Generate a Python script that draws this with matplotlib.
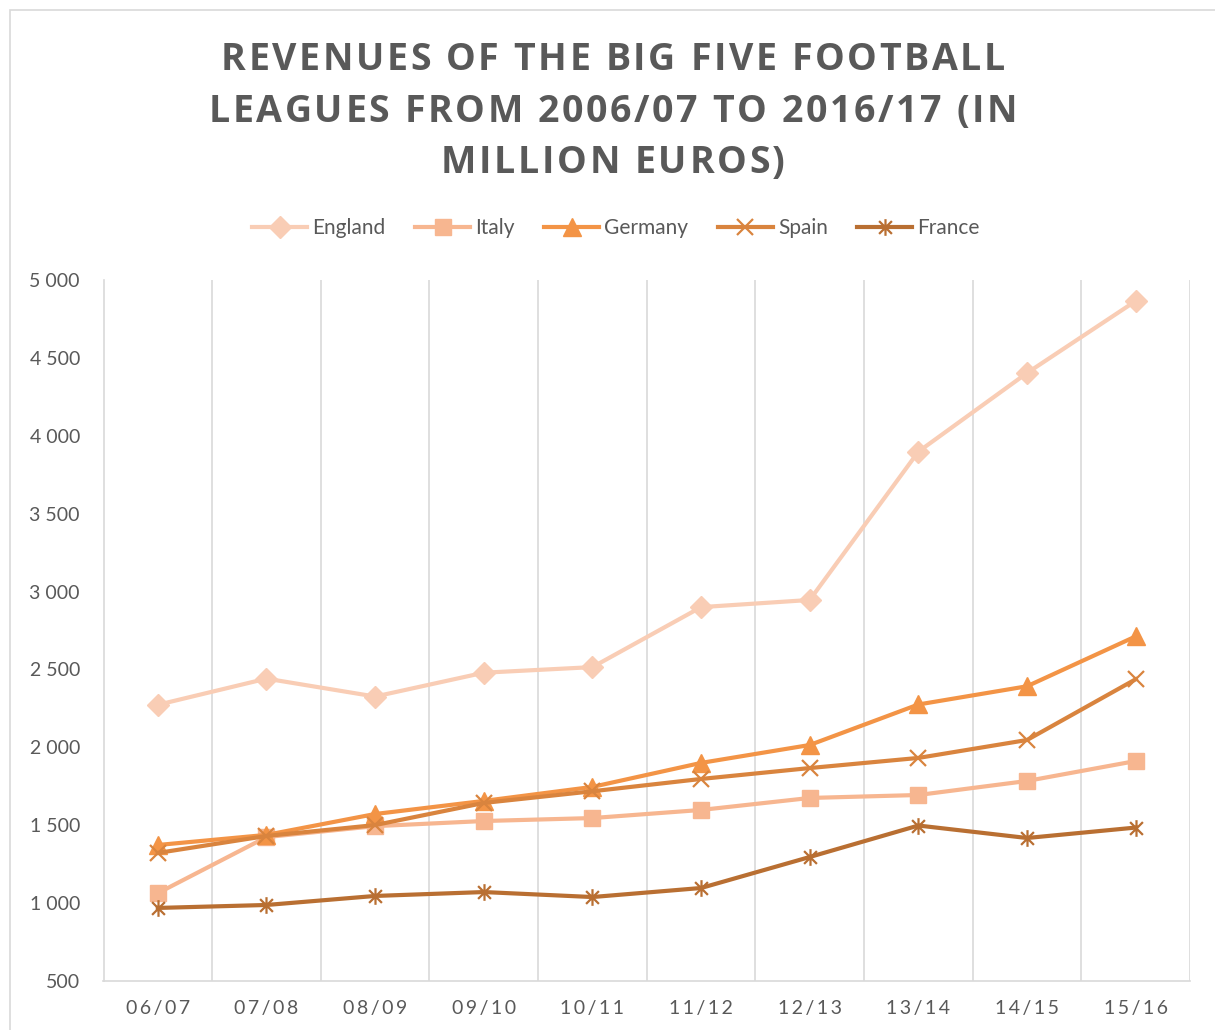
import matplotlib.pyplot as plt
from matplotlib.path import Path
from matplotlib.patches import Rectangle

seasons = ["06/07", "07/08", "08/09", "09/10", "10/11",
           "11/12", "12/13", "13/14", "14/15", "15/16"]
england = [2273, 2441, 2326, 2479, 2515, 2900, 2946, 3898, 4403, 4865]
italy = [1064, 1424, 1494, 1527, 1546, 1598, 1675, 1694, 1784, 1912]
germany = [1373, 1438, 1572, 1656, 1746, 1900, 2015, 2275, 2392, 2712]
spain = [1322, 1431, 1501, 1643, 1718, 1797, 1867, 1932, 2047, 2437]
france = [969, 988, 1046, 1071, 1039, 1097, 1296, 1498, 1418, 1485]
yticks = [500, 1000, 1500, 2000, 2500, 3000, 3500, 4000, 4500, 5000]
title_lines = ["REVENUES OF THE BIG FIVE FOOTBALL",
               "LEAGUES FROM 2006/07 TO 2016/17 (IN",
               "MILLION EUROS)"]

# Excel style "star": an x with a vertical bar through it
star = Path([(-1, -1), (1, 1), (-1, 1), (1, -1), (0, -1.3), (0, 1.3)],
            [Path.MOVETO, Path.LINETO, Path.MOVETO, Path.LINETO,
             Path.MOVETO, Path.LINETO])

series = [
    ("England", england, "#F9CDB5", "D", 11),
    ("Italy", italy, "#F7B690", "s", 12),
    ("Germany", germany, "#F39446", "^", 13),
    ("Spain", spain, "#D9843E", "x", 11),
    ("France", france, "#B96F32", star, 12),
]

plt.rcParams['font.family'] = ['Lato', 'DejaVu Sans']
grey = "#595959"
W, H = 1215, 1030

fig = plt.figure(figsize=(W / 100, H / 100), dpi=100)
fig.patches.append(Rectangle((10 / W, -0.01), 1.2, 1.0 - 10 / H + 0.01,
                             transform=fig.transFigure, fill=False,
                             edgecolor="#D9D9D9", lw=1.2))
ax = fig.add_axes([103.5 / W, 1 - 981 / H, (1190 - 103.5) / W, 701 / H])

x = list(range(len(seasons)))
for name, vals, col, mk, ms in series:
    kw = dict(markerfacecolor=col, markeredgecolor=col)
    if mk == "x" or mk is star:
        kw = dict(markeredgecolor=col, markeredgewidth=1.6)
    ax.plot(x, vals, color=col, lw=3, marker=mk, markersize=ms, label=name, **kw)

ax.set_xlim(-0.5, len(seasons) - 0.5)
ax.set_ylim(500, 5000)
ax.set_yticks(yticks)
ax.set_yticklabels([f"{v:,}".replace(",", " ") for v in yticks])
ax.set_xticks(x)
# letter-spaced season labels, like the original
ax.set_xticklabels(["\u2009".join(s) for s in seasons])
for g in range(len(seasons)):
    ax.axvline(g + 0.5, color="#D9D9D9", lw=1.2, zorder=0)
for s in ("top", "right"):
    ax.spines[s].set_visible(False)
for s in ("left", "bottom"):
    ax.spines[s].set_color("#D9D9D9")
    ax.spines[s].set_linewidth(1.2)
ax.tick_params(length=0, colors=grey, labelsize=14)
ax.tick_params(axis="x", pad=14)
ax.tick_params(axis="y", pad=17)

# title with letter spacing, drawn char by char
renderer = fig.canvas.get_renderer()
tkw = dict(fontsize=27, fontweight="bold", color=grey, family="Open Sans")


def text_w(s):
    t = fig.text(0, 0, s, **tkw)
    w = t.get_window_extent(renderer).width
    t.remove()
    return w


bar_w = text_w("||")
spacing = 2.6
for i, line in enumerate(title_lines):
    adv = [text_w("|" + c + "|") - bar_w for c in line]
    total = sum(adv) + spacing * (len(line) - 1)
    xp = 613 - total / 2
    yb = 1 - (70 + 51.5 * i) / H
    for c, a in zip(line, adv):
        if c != " ":
            fig.text(xp / W, yb, c, ha="left", va="baseline", **tkw)
        xp += a + spacing

fig.legend(loc="center", bbox_to_anchor=(0.507, 1 - 228 / H), ncol=5,
           frameon=False, fontsize=15, labelcolor=grey, handlelength=2.65,
           columnspacing=1.4, handletextpad=0.25)

fig.savefig("out.png", dpi=100)
